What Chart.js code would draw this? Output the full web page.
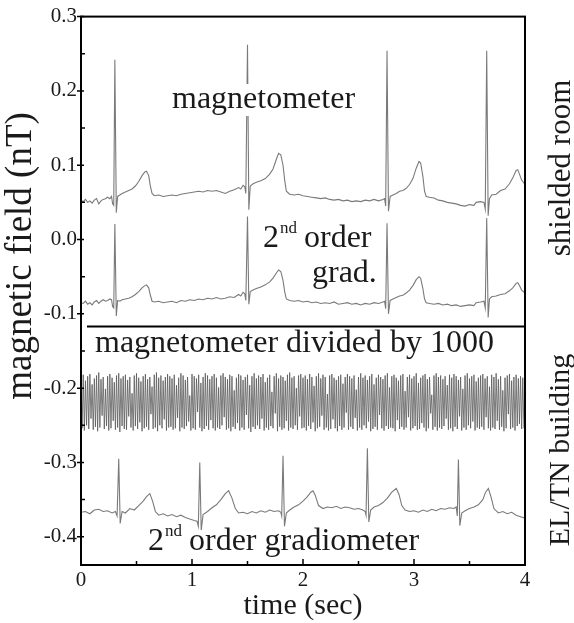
<!DOCTYPE html>
<html>
<head>
<meta charset="utf-8">
<script src="https://cdn.jsdelivr.net/npm/chart.js@4.4.0/dist/chart.umd.min.js"></script>
<style>
  html, body { margin: 0; padding: 0; background: #fff; }
  canvas { display: block; }
</style>
</head>
<body>
<canvas id="mcgChart" width="574" height="623"></canvas>
<script>
// tick labels
const xTicks = [0, 1, 2, 3, 4];
const xMinor = [0.5, 1.5, 2.5, 3.5];
const yTicks = [0.3, 0.2, 0.1, 0.0, -0.1, -0.2, -0.3, -0.4];
const yMinor = [0.25, 0.15, 0.05, -0.05, -0.15, -0.25, -0.35];
const dividerValue = -0.117;

// shielded room: time (sec), magnetometer and 2nd order gradiometer (nT)
const shieldTime = [
  0, 0.02, 0.04, 0.06, 0.08, 0.10, 0.12, 0.14, 0.16, 0.18,
  0.20, 0.22, 0.24, 0.26, 0.275, 0.285, 0.295, 0.305, 0.318, 0.33,
  0.35, 0.37, 0.40, 0.43, 0.46, 0.49, 0.52, 0.55, 0.575, 0.59,
  0.61, 0.625, 0.64, 0.66, 0.70, 0.74, 0.78, 0.82, 0.86, 0.90,
  0.94, 0.98, 1.02, 1.06, 1.10, 1.14, 1.18, 1.22, 1.26, 1.30,
  1.34, 1.38, 1.42, 1.44, 1.46, 1.475, 1.485, 1.50, 1.512, 1.525,
  1.55, 1.58, 1.62, 1.66, 1.70, 1.73, 1.76, 1.78, 1.80, 1.82,
  1.835, 1.85, 1.88, 1.92, 1.96, 2.00, 2.04, 2.08, 2.12, 2.16,
  2.20, 2.24, 2.28, 2.32, 2.36, 2.40, 2.44, 2.48, 2.52, 2.56,
  2.60, 2.64, 2.68, 2.72, 2.735, 2.745, 2.757, 2.77, 2.785, 2.81,
  2.84, 2.87, 2.90, 2.93, 2.96, 2.99, 3.02, 3.045, 3.06, 3.08,
  3.095, 3.11, 3.14, 3.18, 3.22, 3.26, 3.30, 3.34, 3.38, 3.42,
  3.46, 3.50, 3.54, 3.56, 3.60, 3.63, 3.642, 3.655, 3.668, 3.68,
  3.70, 3.74, 3.78, 3.82, 3.86, 3.89, 3.92, 3.935, 3.95, 3.97,
  4.00
];
const shieldMag = [
  0.053, 0.051, 0.054, 0.050, 0.052, 0.049, 0.053, 0.055, 0.048, 0.052,
  0.054, 0.055, 0.057, 0.055, 0.058, 0.048, 0.046, 0.242, 0.036, 0.058,
  0.060, 0.062, 0.064, 0.066, 0.068, 0.072, 0.078, 0.086, 0.091, 0.092,
  0.086, 0.072, 0.062, 0.059, 0.060, 0.058, 0.059, 0.060, 0.059, 0.061,
  0.062, 0.063, 0.064, 0.065, 0.064, 0.066, 0.065, 0.066, 0.064, 0.062,
  0.065, 0.067, 0.070, 0.068, 0.073, 0.071, 0.062, 0.262, 0.040, 0.072,
  0.075, 0.077, 0.079, 0.082, 0.088, 0.095, 0.108, 0.116, 0.114, 0.100,
  0.080, 0.065, 0.061, 0.060, 0.061, 0.059, 0.058, 0.057, 0.056, 0.055,
  0.056, 0.054, 0.053, 0.054, 0.052, 0.053, 0.051, 0.052, 0.051, 0.053,
  0.052, 0.054, 0.052, 0.054, 0.055, 0.045, 0.254, 0.038, 0.058, 0.060,
  0.062, 0.065, 0.066, 0.069, 0.074, 0.082, 0.096, 0.105, 0.103, 0.085,
  0.065, 0.058, 0.057, 0.056, 0.053, 0.052, 0.050, 0.049, 0.048, 0.046,
  0.045, 0.047, 0.046, 0.050, 0.051, 0.050, 0.041, 0.254, 0.032, 0.055,
  0.060, 0.061, 0.066, 0.068, 0.075, 0.083, 0.093, 0.094, 0.088, 0.080,
  0.074
];
const shieldGrad = [
  -0.085, -0.086, -0.083, -0.087, -0.085, -0.088, -0.084, -0.082, -0.086, -0.083,
  -0.081, -0.083, -0.082, -0.080, -0.081, -0.090, -0.092, 0.021, -0.103, -0.082,
  -0.083, -0.081, -0.080, -0.079, -0.077, -0.074, -0.070, -0.065, -0.062, -0.061,
  -0.065, -0.075, -0.083, -0.084, -0.083, -0.085, -0.084, -0.083, -0.085, -0.082,
  -0.083, -0.081, -0.082, -0.080, -0.081, -0.079, -0.080, -0.078, -0.080, -0.079,
  -0.077, -0.078, -0.074, -0.076, -0.071, -0.073, -0.082, 0.031, -0.087, -0.070,
  -0.068, -0.066, -0.064, -0.061, -0.057, -0.052, -0.045, -0.041, -0.043, -0.055,
  -0.070, -0.080, -0.082, -0.083, -0.082, -0.084, -0.083, -0.085, -0.084, -0.086,
  -0.085, -0.086, -0.084, -0.087, -0.086, -0.085, -0.087, -0.086, -0.088, -0.086,
  -0.087, -0.085, -0.086, -0.084, -0.083, -0.093, 0.022, -0.100, -0.082, -0.080,
  -0.078, -0.076, -0.075, -0.072, -0.068, -0.062, -0.054, -0.050, -0.052, -0.066,
  -0.080, -0.085, -0.086, -0.087, -0.086, -0.088, -0.087, -0.089, -0.088, -0.090,
  -0.089, -0.088, -0.089, -0.085, -0.084, -0.083, -0.092, 0.029, -0.105, -0.080,
  -0.077, -0.076, -0.074, -0.073, -0.069, -0.065, -0.059, -0.058, -0.062, -0.068,
  -0.072
];

// EL/TN building: magnetometer / 1000, alternating crest and trough every half cycle
const noiseStep = 0.01;
const noiseHi = [
  -0.186, -0.182, -0.190, -0.184, -0.181, -0.195, -0.187, -0.183, -0.179, -0.188, -0.185, -0.201, -0.184, -0.181, -0.186, -0.192, -0.183, -0.180, -0.187, -0.184,
  -0.182, -0.189, -0.185, -0.207, -0.183, -0.180, -0.186, -0.191, -0.184, -0.181, -0.188, -0.185, -0.198, -0.182, -0.179, -0.186, -0.183, -0.190, -0.185, -0.181,
  -0.184, -0.187, -0.182, -0.196, -0.186, -0.180, -0.183, -0.189, -0.185, -0.210, -0.181, -0.184, -0.187, -0.182, -0.193, -0.185, -0.180, -0.183, -0.188, -0.184,
  -0.181, -0.186, -0.199, -0.183, -0.180, -0.185, -0.188, -0.182, -0.184, -0.203, -0.186, -0.181, -0.183, -0.189, -0.185, -0.182, -0.196, -0.184, -0.180, -0.187,
  -0.183, -0.185, -0.181, -0.192, -0.186, -0.182, -0.205, -0.184, -0.180, -0.187, -0.183, -0.185, -0.190, -0.182, -0.179, -0.186, -0.184, -0.200, -0.183, -0.181,
  -0.186, -0.183, -0.188, -0.181, -0.185, -0.197, -0.184, -0.180, -0.187, -0.182, -0.185, -0.208, -0.183, -0.181, -0.186, -0.189, -0.184, -0.182, -0.194, -0.185,
  -0.181, -0.184, -0.187, -0.183, -0.202, -0.185, -0.180, -0.186, -0.183, -0.189, -0.184, -0.181, -0.195, -0.186, -0.182, -0.185, -0.188, -0.183, -0.180, -0.199,
  -0.184, -0.182, -0.186, -0.190, -0.183, -0.181, -0.204, -0.185, -0.182, -0.187, -0.184, -0.180, -0.193, -0.186, -0.183, -0.181, -0.188, -0.185, -0.209, -0.183,
  -0.180, -0.185, -0.183, -0.188, -0.184, -0.196, -0.182, -0.186, -0.181, -0.184, -0.189, -0.185, -0.201, -0.183, -0.180, -0.187, -0.184, -0.182, -0.191, -0.186,
  -0.183, -0.181, -0.187, -0.184, -0.198, -0.182, -0.185, -0.180, -0.188, -0.184, -0.203, -0.186, -0.183, -0.181, -0.190, -0.185, -0.182, -0.187, -0.184, -0.186
];
const noiseLo = [
  -0.254, -0.257, -0.250, -0.255, -0.241, -0.256, -0.252, -0.258, -0.253, -0.237, -0.255, -0.251, -0.257, -0.254, -0.244, -0.256, -0.253, -0.259, -0.251, -0.255,
  -0.256, -0.238, -0.253, -0.257, -0.251, -0.255, -0.246, -0.258, -0.254, -0.252, -0.256, -0.235, -0.255, -0.253, -0.258, -0.250, -0.254, -0.242, -0.257, -0.253,
  -0.252, -0.256, -0.254, -0.240, -0.258, -0.253, -0.255, -0.251, -0.245, -0.257, -0.254, -0.256, -0.232, -0.253, -0.258, -0.255, -0.251, -0.256, -0.243, -0.254,
  -0.257, -0.253, -0.255, -0.250, -0.239, -0.256, -0.254, -0.258, -0.252, -0.255, -0.247, -0.257, -0.253, -0.256, -0.236, -0.254, -0.259, -0.252, -0.255, -0.250,
  -0.255, -0.241, -0.257, -0.253, -0.256, -0.251, -0.254, -0.234, -0.258, -0.252, -0.256, -0.254, -0.244, -0.257, -0.253, -0.255, -0.250, -0.256, -0.238, -0.254,
  -0.253, -0.257, -0.251, -0.255, -0.246, -0.258, -0.254, -0.252, -0.237, -0.256, -0.253, -0.257, -0.255, -0.242, -0.254, -0.258, -0.251, -0.256, -0.253, -0.233,
  -0.256, -0.252, -0.255, -0.240, -0.257, -0.253, -0.256, -0.250, -0.254, -0.245, -0.258, -0.255, -0.252, -0.256, -0.236, -0.254, -0.257, -0.251, -0.255, -0.253,
  -0.254, -0.258, -0.243, -0.255, -0.252, -0.256, -0.253, -0.239, -0.257, -0.254, -0.251, -0.256, -0.255, -0.247, -0.253, -0.258, -0.254, -0.234, -0.256, -0.252,
  -0.257, -0.253, -0.255, -0.251, -0.241, -0.256, -0.254, -0.258, -0.252, -0.255, -0.238, -0.257, -0.253, -0.256, -0.250, -0.254, -0.245, -0.257, -0.253, -0.255,
  -0.252, -0.256, -0.239, -0.254, -0.257, -0.253, -0.255, -0.244, -0.256, -0.252, -0.258, -0.254, -0.235, -0.255, -0.253, -0.257, -0.251, -0.248, -0.255, -0.254
];

// EL/TN building: 2nd order gradiometer
const buildTime = [
  0, 0.04, 0.08, 0.12, 0.16, 0.20, 0.24, 0.28, 0.31, 0.325,
  0.34, 0.353, 0.37, 0.40, 0.44, 0.48, 0.52, 0.56, 0.59, 0.62,
  0.645, 0.67, 0.70, 0.74, 0.78, 0.82, 0.86, 0.90, 0.94, 0.98,
  1.02, 1.045, 1.057, 1.07, 1.083, 1.10, 1.14, 1.18, 1.22, 1.26,
  1.30, 1.33, 1.36, 1.39, 1.42, 1.46, 1.50, 1.54, 1.58, 1.62,
  1.66, 1.70, 1.74, 1.78, 1.80, 1.808, 1.82, 1.833, 1.85, 1.88,
  1.92, 1.96, 2.00, 2.04, 2.07, 2.09, 2.11, 2.14, 2.18, 2.22,
  2.26, 2.30, 2.34, 2.38, 2.42, 2.46, 2.50, 2.54, 2.56, 2.568,
  2.58, 2.593, 2.61, 2.64, 2.68, 2.72, 2.76, 2.80, 2.84, 2.865,
  2.89, 2.92, 2.96, 3.00, 3.04, 3.08, 3.12, 3.16, 3.20, 3.24,
  3.28, 3.32, 3.36, 3.38, 3.39, 3.40, 3.413, 3.43, 3.46, 3.50,
  3.54, 3.58, 3.62, 3.645, 3.67, 3.695, 3.72, 3.76, 3.80, 3.84,
  3.88, 3.92, 3.96, 4.00
];
const buildGrad = [
  -0.367, -0.366, -0.369, -0.364, -0.363, -0.366, -0.365, -0.368, -0.366, -0.372,
  -0.295, -0.382, -0.366, -0.368, -0.362, -0.364, -0.358, -0.352, -0.346, -0.342,
  -0.352, -0.366, -0.371, -0.369, -0.372, -0.370, -0.373, -0.371, -0.374, -0.376,
  -0.378, -0.379, -0.386, -0.300, -0.391, -0.370, -0.366, -0.361, -0.357, -0.350,
  -0.342, -0.338, -0.348, -0.362, -0.368, -0.367, -0.369, -0.366, -0.368, -0.365,
  -0.367, -0.364, -0.366, -0.365, -0.367, -0.372, -0.291, -0.386, -0.368, -0.364,
  -0.360, -0.357, -0.352, -0.346, -0.340, -0.338, -0.344, -0.358, -0.362, -0.360,
  -0.361, -0.359, -0.362, -0.360, -0.361, -0.363, -0.362, -0.364, -0.366, -0.371,
  -0.281, -0.380, -0.364, -0.360, -0.358, -0.354, -0.348, -0.340, -0.335, -0.343,
  -0.358, -0.364, -0.366, -0.365, -0.367, -0.364, -0.366, -0.363, -0.365, -0.362,
  -0.363, -0.361, -0.362, -0.360, -0.372, -0.296, -0.385, -0.368, -0.365, -0.362,
  -0.360, -0.357, -0.350, -0.340, -0.335, -0.347, -0.362, -0.368, -0.366, -0.369,
  -0.367, -0.371, -0.373, -0.375
];

const SERIF = '"Liberation Serif", "Times New Roman", serif';
const INK = '#1a1a1a';
const TRACE = '#7a7a7a';

function toPoints(times, values) {
  return times.map((t, i) => ({ x: t, y: values[i] }));
}

const noisePoints = [];
noiseHi.forEach((hi, i) => {
  noisePoints.push({ x: 2 * i * noiseStep, y: hi });
  noisePoints.push({ x: (2 * i + 1) * noiseStep, y: noiseLo[i] });
});

function font(size) {
  return `${size}px ${SERIF}`;
}

// "2nd ..." with a raised ordinal suffix
function drawOrdinal(ctx, x, y, rest) {
  ctx.font = font(32);
  ctx.fillText('2', x, y);
  const w = ctx.measureText('2').width;
  ctx.font = font(17);
  ctx.fillText('nd', x + w + 1, y - 14);
  const w2 = ctx.measureText('nd').width;
  ctx.font = font(32);
  ctx.fillText(rest, x + w + 1 + w2 + 7, y);
}

function drawRotated(ctx, text, x, y, size) {
  ctx.save();
  ctx.translate(x, y);
  ctx.rotate(-Math.PI / 2);
  ctx.textAlign = 'center';
  ctx.font = font(size);
  ctx.fillText(text, 0, 0);
  ctx.restore();
}

const figurePlugin = {
  id: 'figure',
  afterDatasetsDraw(chart) {
    const { ctx, chartArea: a, scales: { x, y } } = chart;
    ctx.save();
    ctx.strokeStyle = '#000';
    ctx.lineWidth = 2;
    ctx.strokeRect(a.left, a.top, a.right - a.left, a.bottom - a.top);

    // line between the shielded room and the building recordings
    const dy = y.getPixelForValue(dividerValue);
    ctx.beginPath();
    ctx.moveTo(a.left + 6, dy);
    ctx.lineTo(a.right, dy);
    ctx.stroke();

    ctx.lineWidth = 1.5;
    ctx.beginPath();
    xTicks.forEach(v => {
      const px = x.getPixelForValue(v);
      ctx.moveTo(px, a.bottom);
      ctx.lineTo(px, a.bottom - 6);
    });
    xMinor.forEach(v => {
      const px = x.getPixelForValue(v);
      ctx.moveTo(px, a.bottom);
      ctx.lineTo(px, a.bottom - 4);
    });
    yTicks.forEach(v => {
      const py = y.getPixelForValue(v);
      ctx.moveTo(a.left - 4, py);
      ctx.lineTo(a.left + 3, py);
    });
    yMinor.forEach(v => {
      const py = y.getPixelForValue(v);
      ctx.moveTo(a.left, py);
      ctx.lineTo(a.left + 4, py);
    });
    ctx.stroke();

    ctx.fillStyle = INK;
    ctx.textBaseline = 'alphabetic';
    ctx.textAlign = 'left';

    // label over the top trace hides the spike behind it
    ctx.font = font(32);
    const mw = ctx.measureText('magnetometer').width;
    ctx.fillStyle = '#fff';
    ctx.fillRect(170, 84, mw + 4, 32);
    ctx.fillStyle = INK;
    ctx.fillText('magnetometer', 172, 108);

    drawOrdinal(ctx, 263, 247, 'order');
    ctx.font = font(32);
    ctx.fillText('grad.', 312, 282);

    ctx.fillText('magnetometer divided by 1000', 95, 352);
    drawOrdinal(ctx, 148, 550, 'order gradiometer');

    drawRotated(ctx, 'magnetic field (nT)', 31, 256, 37);
    drawRotated(ctx, 'shielded room', 570, 168, 31);
    drawRotated(ctx, 'EL/TN building', 569, 450, 30);
    ctx.restore();
  }
};

new Chart(document.getElementById('mcgChart').getContext('2d'), {
  type: 'line',
  data: {
    datasets: [
      { label: 'magnetometer (shielded room)', data: toPoints(shieldTime, shieldMag), borderColor: TRACE, borderWidth: 1.1 },
      { label: '2nd order grad. (shielded room)', data: toPoints(shieldTime, shieldGrad), borderColor: TRACE, borderWidth: 1.1 },
      { label: 'magnetometer divided by 1000', data: noisePoints, borderColor: '#5a5a5a', borderWidth: 0.8 },
      { label: '2nd order gradiometer', data: toPoints(buildTime, buildGrad), borderColor: TRACE, borderWidth: 1.1 }
    ]
  },
  options: {
    responsive: false,
    animation: false,
    layout: { padding: { top: 15, right: 49, left: 0, bottom: 0 } },
    elements: { point: { radius: 0 }, line: { tension: 0, fill: false } },
    plugins: { legend: { display: false }, tooltip: { enabled: false } },
    scales: {
      x: {
        type: 'linear',
        min: 0,
        max: 4,
        afterBuildTicks: s => { s.ticks = xTicks.map(v => ({ value: v })); },
        afterFit: s => { s.height = 58; },
        grid: { display: false, drawTicks: false },
        border: { display: false },
        ticks: { padding: 3, color: INK, font: { family: SERIF, size: 21 } },
        title: {
          display: true,
          text: 'time (sec)',
          color: INK,
          font: { family: SERIF, size: 30, lineHeight: 1 },
          padding: { top: 0, bottom: 2 }
        }
      },
      y: {
        min: -0.438,
        max: 0.3,
        afterBuildTicks: s => { s.ticks = yTicks.map(v => ({ value: v })); },
        afterFit: s => { s.width = 81; },
        grid: { display: false, drawTicks: false },
        border: { display: false },
        ticks: {
          padding: 4,
          color: INK,
          font: { family: SERIF, size: 21 },
          callback: v => v.toFixed(1)
        }
      }
    }
  },
  plugins: [figurePlugin]
});
</script>
</body>
</html>
